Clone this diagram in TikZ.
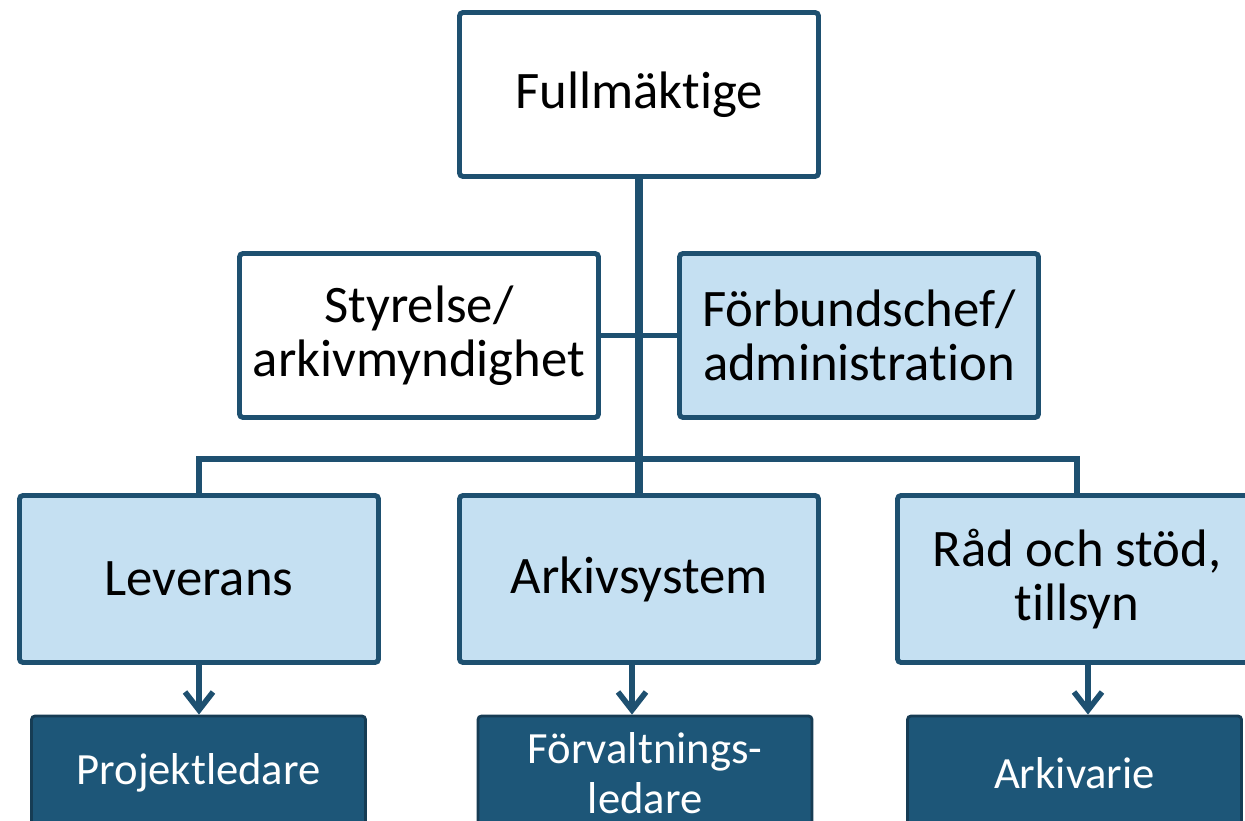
\documentclass[tikz,border=0pt]{standalone}
\usepackage{fontspec}
\setmainfont[Ligatures=NoCommon]{Carlito}
\usetikzlibrary{arrows.meta}

\definecolor{orgline}{RGB}{30,80,112}
\definecolor{orglight}{RGB}{197,224,242}
\definecolor{orgdark}{RGB}{29,86,120}

\begin{document}
\begin{tikzpicture}[
    orgbox/.style={draw=orgline, line width=1.4pt, rounded corners=1pt, fill=white,
      minimum width=3.59cm, minimum height=1.64cm, inner sep=0pt, align=center,
      font=\fontsize{15}{15.5}\selectfont},
    lightbox/.style={orgbox, fill=orglight},
    rolebox/.style={draw=orgline!75!black, line width=0.8pt, rounded corners=1pt,
      fill=orgdark, text=white, minimum width=3.34cm, minimum height=1.14cm,
      inner sep=0pt, align=center, font=\fontsize{12.7}{14.2}\selectfont},
    conn/.style={draw=orgline, line width=1.7pt},
    arr/.style={draw=orgline, line width=1.6pt, -{Straight Barb[length=1.8mm,width=2.8mm]}}]
  \useasboundingbox (0,0) rectangle (12.45,-8.21);
  \clip (0,0) rectangle (12.45,-8.21);

  % top and second row
  \node[orgbox] (full) at (6.39,-0.945) {Fullmäktige};
  \node[orgbox] (styr) at (4.19,-3.355) {Styrelse/\\arkivmyndighet};
  \node[lightbox] (forb) at (8.59,-3.355) {Förbundschef/\\administration};

  % units
  \node[lightbox, minimum height=1.67cm] (lev) at (1.99,-5.79) {Leverans};
  \node[lightbox, minimum height=1.67cm] (ark) at (6.39,-5.79) {Arkivsystem};
  \node[lightbox, minimum height=1.67cm] (rad) at (10.77,-5.79) {Råd och stöd,\\tillsyn};

  % roles
  \node[rolebox] (proj) at (1.985,-7.73) {Projektledare};
  \node[rolebox] (forv) at (6.45,-7.73) {Förvaltnings-\\ledare};
  \node[rolebox] (arkv) at (10.745,-7.73) {Arkivarie};

  \coordinate (bus) at (6.39,-4.59);
  \draw[conn, line width=2.3pt] (full.south) -- (ark.north);
  \draw[conn] (styr.east) -- (forb.west);
  \draw[conn] (lev.north) |- (bus) -| (rad.north);

  \foreach \up/\down/\dx in {lev/proj/0, ark/forv/-0.07, rad/arkv/0.11} {%
    \coordinate (s\up) at ([xshift=\dx cm]\up.south);
    \draw[arr] (s\up) -- (s\up |- \down.north); }
\end{tikzpicture}
\end{document}
